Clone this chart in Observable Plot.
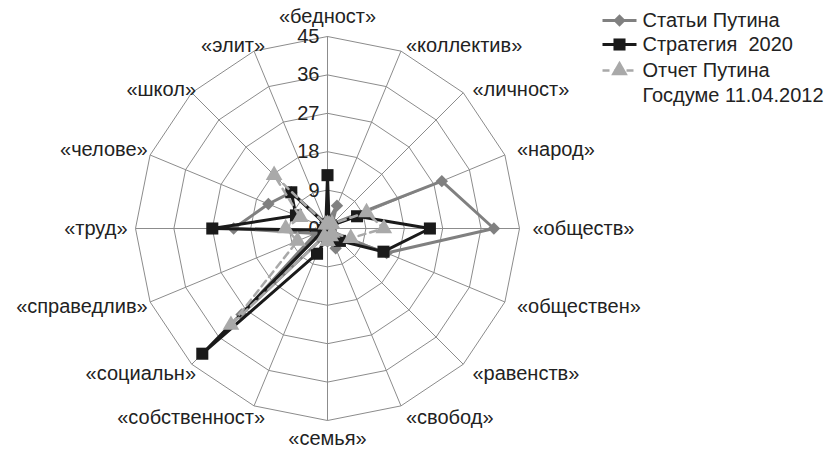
<!DOCTYPE html>
<html>
<head>
<meta charset="utf-8">
<script src="https://cdn.jsdelivr.net/npm/d3@7"></script>
<script src="https://cdn.jsdelivr.net/npm/@observablehq/plot@0.6"></script>
<style>
  html, body { margin: 0; padding: 0; background: #ffffff; }
  #chart { width: 838px; height: 450px; }
</style>
</head>
<body>
<div id="chart"></div>
<script>
// ---- data ----
const categories = ["«бедност»","«коллектив»","«личност»","«народ»","«обществ»","«обществен»","«равенств»","«свобод»","«семья»","«собственност»","«социальн»","«справедлив»","«труд»","«челове»","«школ»","«элит»"];
const statyiPutina   = [1.5, 5.8, 1.5, 29, 39, 15, 2, 5, 3, 2, 28.5, 3, 22, 15, 12, 1.5];
const strategiya2020 = [12.5, 1, 1, 7.5, 24, 14.2, 4.1, 1.5, 2, 6.4, 41.5, 1, 27, 8, 12, 1];
const otchetPutina   = [1, 1, 1.5, 9.9, 13.2, 5.9, 1.5, 2, 3, 2, 32, 7.6, 9.8, 6.9, 17.7, 1];
const ticks = [0, 9, 18, 27, 36, 45];
const seriesNames = ["Статьи Путина", "Стратегия  2020", "Отчет Путина", "Госдуме 11.04.2012"];

// ---- layout ----
const W = 838, H = 450;
const CX = 327, CY = 228, RPX = 192;
const MAX = ticks[ticks.length - 1];
const unit = RPX / MAX;
const px2x = px => (px - CX) / unit;
const py2y = py => (CY - py) / unit;
const n = categories.length;
const ang = i => (i / n) * 2 * Math.PI;

const seriesDefs = [
  {name: seriesNames[0], values: statyiPutina, color: "#808080", width: 3, dash: null, symbol: "diamond2", r: 5.6},
  {name: seriesNames[1], values: strategiya2020, color: "#1a1a1a", width: 3, dash: null, symbol: "square", r: 6.8},
  {name: seriesNames[2], values: otchetPutina, color: "#a9a9a9", width: 2.5, dash: "7,5", symbol: "triangle", r: 6.2}
];

// grid rings
const rings = [];
ticks.filter(t => t > 0).forEach(t => {
  for (let i = 0; i <= n; i++) {
    const a = ang(i % n);
    rings.push({ring: t, x: t * Math.sin(a), y: t * Math.cos(a)});
  }
});
const spokes = categories.map((c, i) => ({x2: MAX * Math.sin(ang(i)), y2: MAX * Math.cos(ang(i))}));

// labels
const RL = 205 / unit;
const labels = categories.map((c, i) => {
  const a = ang(i), s = Math.sin(a), co = Math.cos(a);
  const anchor = Math.abs(s) < 0.2 ? "middle" : (s > 0 ? "start" : "end");
  let r = RL, dx = 0, dy = 0;
  if (anchor === "middle") r = (co > 0 ? 212 : 210) / unit;
  if (anchor === "end") dx = 5 + 12 * Math.abs(co);
  if (anchor !== "middle" && co > 0.5) dy = 6;
  return {label: c, x: r * s, y: r * co, anchor, dx, dy};
});

const marks = [
  Plot.line(rings, {x: "x", y: "y", z: "ring", stroke: "#8c8c8c", strokeWidth: 1}),
  Plot.link(spokes, {x1: 0, y1: 0, x2: "x2", y2: "y2", stroke: "#8c8c8c", strokeWidth: 1}),
  Plot.text(ticks, {x: 0, y: d => d, text: d => String(d), textAnchor: "end", dx: -8, fill: "#222", fontSize: 20})
];

labels.forEach(d => {
  marks.push(Plot.text([d], {x: "x", y: "y", text: "label", textAnchor: d.anchor, dx: d.dx, dy: d.dy, fill: "#222", fontSize: 20}));
});

seriesDefs.forEach(s => {
  const pts = s.values.map((v, i) => ({x: v * Math.sin(ang(i)), y: v * Math.cos(ang(i)), series: s.name}));
  marks.push(Plot.line(pts, {x: "x", y: "y", curve: "linear-closed", stroke: s.color, strokeWidth: s.width, strokeDasharray: s.dash}));
  marks.push(Plot.dot(pts, {x: "x", y: "y", symbol: () => s.symbol, r: s.r, fill: s.color, stroke: "none"}));
});

// legend (inside SVG, top-right)
const LX1 = 602, LX2 = 636, LXT = 642;
const legendRows = [
  {y: 20, def: seriesDefs[0], text: [seriesNames[0]]},
  {y: 44, def: seriesDefs[1], text: [seriesNames[1]]},
  {y: 70, def: seriesDefs[2], text: [seriesNames[2], seriesNames[3]]}
];
legendRows.forEach(row => {
  const s = row.def;
  marks.push(Plot.link([0], {x1: px2x(LX1), x2: px2x(LX2), y1: py2y(row.y), y2: py2y(row.y), stroke: s.color, strokeWidth: s.width, strokeDasharray: s.dash}));
  marks.push(Plot.dot([0], {x: px2x((LX1 + LX2) / 2), y: py2y(row.y), symbol: () => s.symbol, r: s.r, fill: s.color, stroke: "none"}));
  row.text.forEach((t, k) => {
    marks.push(Plot.text([t], {x: px2x(LXT), y: py2y(row.y + k * 25), text: d => d, textAnchor: "start", fill: "#222", fontSize: 20}));
  });
});

const chart = Plot.plot({
  width: W,
  height: H,
  margin: 0,
  x: {domain: [px2x(0), px2x(W)], range: [0, W], axis: null},
  y: {domain: [py2y(H), py2y(0)], range: [H, 0], axis: null},
  style: {fontFamily: "'Liberation Sans', Arial, sans-serif", fontSize: "20px", background: "#ffffff", overflow: "visible"},
  marks
});
document.getElementById("chart").appendChild(chart);
</script>
</body>
</html>
